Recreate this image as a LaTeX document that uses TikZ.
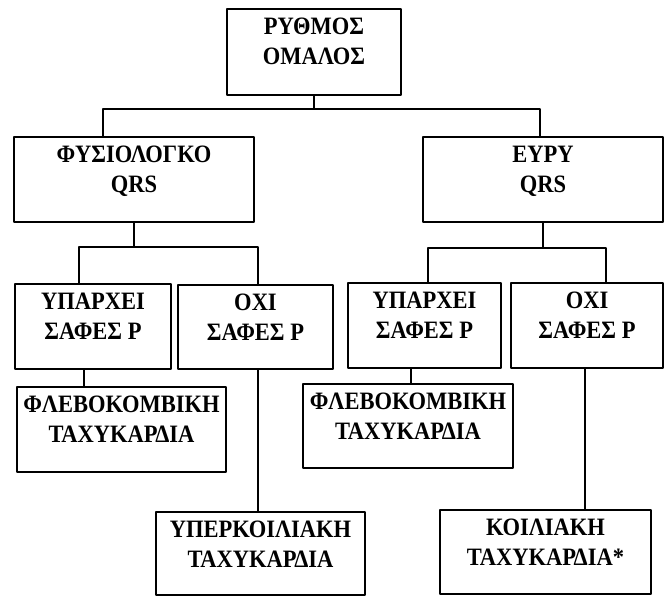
\documentclass[tikz,border=0pt]{standalone}
\usepackage{fontspec}
\setmainfont{Liberation Serif}[FakeStretch=0.9]
\tikzset{box/.style={draw, line width=2pt, anchor=north west, inner sep=0pt, align=center, text height=55pt}}
\begin{document}
\begin{tikzpicture}[x=1pt, y=-1pt, line join=round, font=\bfseries\fontsize{25}{30}\selectfont]
	\useasboundingbox (0,0) rectangle (664,595);
	% level 0 and 1
	\node[box, minimum width=174pt, text depth=31pt] (rythmos) at (226,8) {ΡΥΘΜΟΣ\\ΟΜΑΛΟΣ};
	\node[box, minimum width=240pt, text depth=30pt] (fysio) at (13,136) {ΦΥΣΙΟΛΟΓΚΟ\\QRS};
	\node[box, minimum width=240pt, text depth=30pt] (eyry) at (422,136) {ΕΥΡΥ\\QRS};
	% level 2
	\node[box, minimum width=156pt, text depth=30pt] (fysP) at (14,283) {ΥΠΑΡΧΕΙ\\ΣΑΦΕΣ Ρ};
	\node[box, minimum width=155pt, text depth=29pt] (fysNoP) at (177,284) {ΟΧΙ\\ΣΑΦΕΣ Ρ};
	\node[box, minimum width=153pt, text depth=30pt] (eyryP) at (347,282) {ΥΠΑΡΧΕΙ\\ΣΑΦΕΣ Ρ};
	\node[box, minimum width=152pt, text depth=30pt] (eyryNoP) at (510,282) {ΟΧΙ\\ΣΑΦΕΣ Ρ};
	% level 3
	\node[box, minimum width=209pt, text depth=30pt] (flebo1) at (16,386) {ΦΛΕΒΟΚΟΜΒΙΚΗ\\ΤΑΧΥΚΑΡΔΙΑ};
	\node[box, minimum width=210pt, text depth=29pt] (flebo2) at (302,383) {ΦΛΕΒΟΚΟΜΒΙΚΗ\\ΤΑΧΥΚΑΡΔΙΑ};
	\node[box, minimum width=209pt, text depth=28pt] (hyper) at (155,511) {ΥΠΕΡΚΟΙΛΙΑΚΗ\\ΤΑΧΥΚΑΡΔΙΑ};
	\node[box, minimum width=211pt, text depth=29pt] (koil) at (439,509) {ΚΟΙΛΙΑΚΗ\\ΤΑΧΥΚΑΡΔΙΑ*};
	% branch points
	\coordinate (b0l) at (103,109); \coordinate (b0r) at (540,109);
	\coordinate (b1l) at (79,247); \coordinate (b1r) at (258,247);
	\coordinate (b2l) at (428,248); \coordinate (b2r) at (606,248);
	\begin{scope}[line width=1.8pt]
		\draw (rythmos.south) -- (rythmos.south |- b0l);
		\draw (fysio.north -| b0l) -- (b0l) -- (b0r) -- (eyry.north -| b0r);
		\draw (fysio.south) -- (fysio.south |- b1l);
		\draw (fysP.north -| b1l) -- (b1l) -- (b1r) -- (fysNoP.north -| b1r);
		\draw (eyry.south) -- (eyry.south |- b2l);
		\draw (eyryP.north -| b2l) -- (b2l) -- (b2r) -- (eyryNoP.north -| b2r);
		\draw (84,368) -- (flebo1.north -| 84,0);
		\draw (258,368) -- (hyper.north -| 258,0);
		\draw (411,367) -- (flebo2.north -| 411,0);
		\draw (585,367) -- (koil.north -| 585,0);
	\end{scope}
\end{tikzpicture}
\end{document}
